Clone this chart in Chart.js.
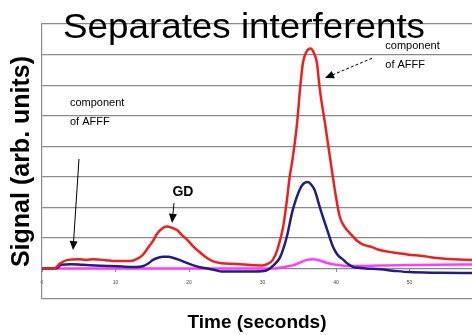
<!DOCTYPE html>
<html>
<head>
<meta charset="utf-8">
<script src="https://cdn.jsdelivr.net/npm/chart.js@4.4.0/dist/chart.umd.min.js"></script>
<style>
  html, body { margin: 0; padding: 0; background: #fff; }
  #wrap { width: 472px; height: 335px; }
</style>
</head>
<body>
<div id="wrap"><canvas id="chart" width="472" height="335"></canvas></div>
<script>
// chromatogram traces (time in s, signal in arb. units)
const redTime   = [0, 1, 1.8, 2.5, 3.5, 5, 6, 7, 8.7, 10, 12, 13, 13.7, 14.5, 15.1, 15.6, 16.3, 17, 17.7, 18.4, 19, 19.7, 20.5, 21.5, 22.4, 23.3, 24.5, 26, 28, 30, 30.7, 31.4, 32, 32.8, 33.3, 33.7, 34.1, 34.7, 35.1, 35.5, 36, 36.5, 37, 37.4, 37.8, 38.5, 39.2, 39.9, 40.5, 41.2, 41.9, 43, 43.7, 45, 45.7, 47, 48.5, 49.7, 52, 54.1, 56, 58.5];
const redSignal = [0, 0, 0.02, 0.17, 0.28, 0.3, 0.28, 0.3, 0.27, 0.24, 0.24, 0.32, 0.44, 0.7, 0.9, 1.12, 1.3, 1.37, 1.33, 1.25, 1.1, 0.95, 0.74, 0.52, 0.35, 0.23, 0.17, 0.15, 0.12, 0.1, 0.15, 0.28, 0.6, 1.35, 2.2, 3.0, 3.6, 4.75, 5.85, 6.73, 7.1, 7.2, 7.05, 6.73, 5.85, 4.75, 3.6, 2.48, 1.7, 1.35, 1.15, 0.88, 0.78, 0.69, 0.62, 0.55, 0.5, 0.46, 0.4, 0.33, 0.3, 0.28];

const blueTime   = [0, 2, 2.6, 4, 5.5, 7.3, 9, 11, 12.8, 13.7, 14.5, 15.1, 15.8, 16.5, 17.2, 17.8, 18.7, 19.7, 20.6, 21.5, 22.5, 23.5, 24.5, 27, 29, 30.5, 31, 31.7, 32.4, 33.3, 34.1, 35.1, 35.6, 36.2, 36.6, 37.1, 37.8, 38.8, 39.6, 40.2, 41, 41.6, 42.3, 43, 44, 46, 48, 50, 54, 58.5];
const blueSignal = [0, 0.01, 0.12, 0.14, 0.12, 0.1, 0.08, 0.06, 0.05, 0.07, 0.17, 0.28, 0.35, 0.38, 0.38, 0.35, 0.28, 0.18, 0.1, 0.04, 0, -0.05, -0.1, -0.1, -0.1, -0.07, 0, 0.15, 0.37, 1.03, 1.9, 2.6, 2.78, 2.83, 2.75, 2.56, 2.0, 1.26, 0.7, 0.45, 0.28, 0.15, 0.05, 0.02, 0, -0.03, -0.08, -0.12, -0.14, -0.15];

const pinkTime   = [0, 10, 20, 30, 32, 33, 34.1, 35, 36, 36.9, 37.8, 38.8, 40, 41, 43.3, 46, 50, 54, 58.5];
const pinkSignal = [0, 0, 0, 0, 0.01, 0.05, 0.1, 0.18, 0.28, 0.3, 0.26, 0.18, 0.12, 0.09, 0.08, 0.1, 0.11, 0.12, 0.13];

const xTicks = [0, 10, 20, 30, 40, 50];

// callouts, anchored in data units
const notes = [
  { lines: ['component', 'of AFFF'], t: 3.8, v: 5.41, font: '11px "Liberation Sans", Arial', align: 'left' },
  { lines: ['component', 'of AFFF'], t: 46.7, v: 7.27, font: '11px "Liberation Sans", Arial', align: 'left' },
  { lines: ['GD'], t: 19.18, v: 2.5, font: 'bold 14px "Liberation Sans", Arial', align: 'center' }
];
const arrows = [
  { from: [5.03, 3.58], to: [4.22, 0.6] },
  { from: [17.96, 2.14], to: [17.69, 1.49] },
  { from: [44.9, 6.88], to: [38.5, 6.23], dash: [3, 2] }
];

const toPoints = (ts, vs) => ts.map((t, i) => ({ x: t, y: vs[i] }));

const overlay = {
  id: 'overlay',
  afterDraw(chart) {
    const { ctx, scales: { x, y } } = chart;
    ctx.save();
    ctx.fillStyle = '#000';
    ctx.strokeStyle = '#000';
    ctx.textBaseline = 'middle';

    notes.forEach(n => {
      ctx.font = n.font;
      ctx.textAlign = n.align;
      n.lines.forEach((line, i) => {
        ctx.fillText(line, x.getPixelForValue(n.t), y.getPixelForValue(n.v) + i * 19);
      });
    });

    arrows.forEach(a => {
      const x1 = x.getPixelForValue(a.from[0]), y1 = y.getPixelForValue(a.from[1]);
      const x2 = x.getPixelForValue(a.to[0]), y2 = y.getPixelForValue(a.to[1]);
      const ang = Math.atan2(y2 - y1, x2 - x1);
      ctx.lineWidth = 1;
      ctx.setLineDash(a.dash || []);
      ctx.beginPath();
      ctx.moveTo(x1, y1);
      ctx.lineTo(x2 - 6 * Math.cos(ang), y2 - 6 * Math.sin(ang));
      ctx.stroke();
      ctx.setLineDash([]);
      ctx.beginPath();
      ctx.moveTo(x2, y2);
      ctx.lineTo(x2 - 9 * Math.cos(ang) + 4 * Math.sin(ang), y2 - 9 * Math.sin(ang) - 4 * Math.cos(ang));
      ctx.lineTo(x2 - 9 * Math.cos(ang) - 4 * Math.sin(ang), y2 - 9 * Math.sin(ang) + 4 * Math.cos(ang));
      ctx.closePath();
      ctx.fill();
    });

    // slide title sits over the top of the plot
    ctx.font = '35px "Liberation Sans", Arial';
    ctx.textAlign = 'left';
    ctx.textBaseline = 'alphabetic';
    const title = 'Separates interferents';
    const sx = 362 / ctx.measureText(title).width;
    ctx.translate(63, 38);
    ctx.scale(sx, 1);
    ctx.fillText(title, 0, 0);
    ctx.restore();
  }
};

new Chart(document.getElementById('chart'), {
  type: 'line',
  data: {
    datasets: [
      { data: toPoints(redTime, redSignal), borderColor: '#ee1f1f' },
      { data: toPoints(blueTime, blueSignal), borderColor: '#1f1f80' },
      { data: toPoints(pinkTime, pinkSignal), borderColor: '#ff3cff' }
    ].map(d => Object.assign(d, {
      borderWidth: 2.5, pointRadius: 0, fill: false,
      cubicInterpolationMode: 'monotone'
    }))
  },
  options: {
    responsive: false,
    animation: false,
    layout: { padding: { left: 7, top: 24, right: 0, bottom: 36 } },
    plugins: { legend: { display: false }, tooltip: { enabled: false } },
    scales: {
      x: {
        type: 'linear',
        position: { y: 0 },
        min: 0, max: 58.5,
        afterBuildTicks: s => { s.ticks = xTicks.map(v => ({ value: v })); },
        ticks: { font: { size: 5 }, color: '#444', padding: 8, maxRotation: 0 },
        grid: { drawOnChartArea: false, drawTicks: true, tickLength: 3, color: '#888' },
        border: { color: '#888' },
        title: {
          display: true, text: 'Time (seconds)', color: '#000',
          font: { family: '"Liberation Sans", Arial', size: 19, weight: 'bold' },
          padding: { top: 18, bottom: 0 }
        }
      },
      y: {
        min: -1, max: 8,
        ticks: { display: false, stepSize: 1 },
        grid: { color: '#8a8a8a', lineWidth: 1.2, drawTicks: false },
        border: { color: '#8a8a8a', width: 1.2 },
        title: {
          display: true, text: 'Signal (arb. units)', color: '#000',
          font: { family: '"Liberation Sans", Arial', size: 25, weight: 'bold' },
          padding: { top: 0, bottom: 5 }
        }
      }
    }
  },
  plugins: [overlay]
});
</script>
</body>
</html>
